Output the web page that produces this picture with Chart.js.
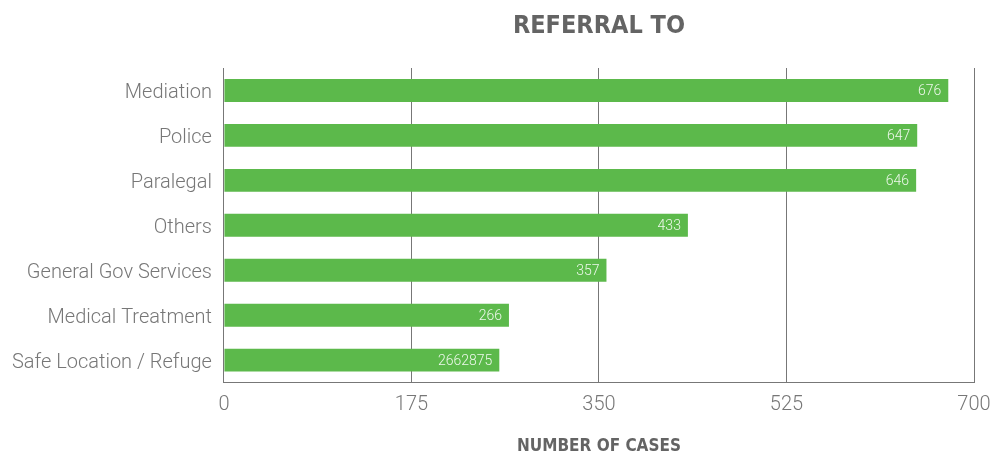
<!DOCTYPE html>
<html>
<head>
<meta charset="utf-8">
<script src="https://cdn.jsdelivr.net/npm/chart.js@4"></script>
<style>
html,body{margin:0;padding:0;background:#fff;}
#wrap{width:991px;height:457px;}
</style>
</head>
<body>
<div id="wrap"><canvas id="c" width="991" height="457"></canvas></div>
<script>
const categories = ["Mediation","Police","Paralegal","Others","General Gov Services","Medical Treatment","Safe Location / Refuge"];
const values = [676, 647, 646, 433, 357, 266, 257];
const valueLabels = ["676","647","646","433","357","266","2662875"];
const xTicks = [0, 175, 350, 525, 700];

const labelPlugin = {
  id: 'barLabels',
  afterDatasetsDraw(chart) {
    const ctx = chart.ctx;
    const meta = chart.getDatasetMeta(0);
    ctx.save();
    ctx.font = '300 14px Roboto, "DejaVu Sans", sans-serif';
    ctx.fillStyle = '#eef8ec';
    ctx.textAlign = 'right';
    ctx.textBaseline = 'middle';
    meta.data.forEach((bar, i) => {
      ctx.fillText(valueLabels[i], bar.x - 7, bar.y + 1);
    });
    ctx.restore();
  }
};

new Chart(document.getElementById('c'), {
  type: 'bar',
  data: {
    labels: categories,
    datasets: [{
      data: values,
      backgroundColor: '#5cb94b',
      borderWidth: 0,
      barPercentage: 0.51,
      categoryPercentage: 1.0
    }]
  },
  options: {
    indexAxis: 'y',
    responsive: false,
    animation: false,
    layout: { padding: { left: 0, right: 0, top: 0, bottom: 0 } },
    plugins: {
      legend: { display: false },
      tooltip: { enabled: false },
      title: {
        display: true,
        fullSize: false,
        text: 'REFERRAL TO',
        color: '#646464',
        font: { family: '"DejaVu Sans Condensed", sans-serif', size: 25, weight: 'bold' },
        padding: { top: 11, bottom: 27 }
      }
    },
    scales: {
      x: {
        min: 0,
        max: 700,
        afterBuildTicks(axis) { axis.ticks = xTicks.map(v => ({ value: v })); },
        afterFit(axis) { axis.paddingRight = 17; },
        grid: { color: '#777', lineWidth: 1, drawTicks: false },
        border: { display: true, color: '#777' },
        ticks: {
          color: '#777',
          padding: 10,
          font: { family: 'Roboto, "DejaVu Sans", sans-serif', size: 20, weight: '300' }
        },
        title: {
          display: true,
          text: 'NUMBER OF CASES',
          color: '#646464',
          font: { family: '"DejaVu Sans Condensed", sans-serif', size: 17, weight: 'bold' },
          padding: { top: 10, bottom: 0 }
        }
      },
      y: {
        grid: { display: false, drawTicks: false },
        border: { display: false },
        ticks: {
          color: '#777',
          padding: 12,
          labelOffset: 3,
          font: { family: 'Roboto, "DejaVu Sans", sans-serif', size: 20, weight: '300' }
        }
      }
    }
  },
  plugins: [labelPlugin]
});
</script>
</body>
</html>
